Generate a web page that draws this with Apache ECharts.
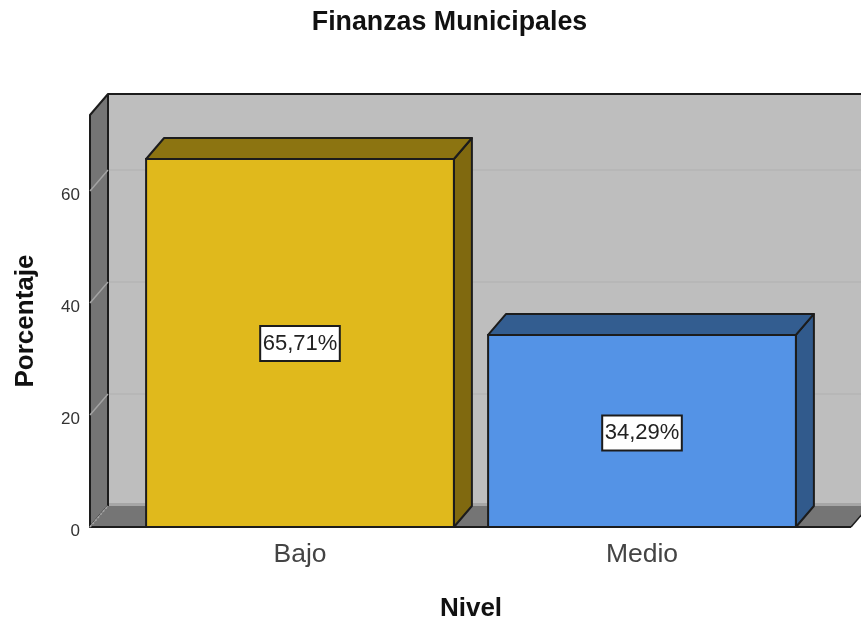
<!DOCTYPE html>
<html><head><meta charset="utf-8">
<style>html,body{margin:0;padding:0;background:#fff}#c{width:861px;height:625px}</style>
<script src="https://cdn.jsdelivr.net/npm/echarts@6/dist/echarts.min.js"></script>
</head><body><div id="c"></div>
<script>
const categories = ['Bajo', 'Medio'];
const values = [65.71, 34.29];
const valueLabels = ['65,71%', '34,29%'];
const yTicks = [0, 20, 40, 60];
const yMax = 73.57;
const barFront = ['#e0b91c', '#5493e6'];
const barTop = ['#8c7411', '#335d90'];
const barSide = ['#80690f', '#315a8c'];
const DX = 18, DY = -21, LINE = '#1c1c1c';

const chart = echarts.init(document.getElementById('c'));
function poly(points, fill, stroke, lw) {
  return { type: 'polygon', shape: { points }, style: { fill, stroke: stroke || null, lineWidth: lw || 0, lineJoin: 'round' } };
}
function wallItem(params, api) {
  const cs = params.coordSys;
  const L = cs.x - 39, R = cs.x + cs.width + 38, B = api.coord([categories[0], 0])[1], T = api.coord([categories[0], yMax])[1];
  const kids = [];
  kids.push(poly([[L + DX, T + DY], [R + DX + 10, T + DY], [R + DX + 10, B + DY], [L + DX, B + DY]], '#bebebe'));
  kids.push({ type: 'line', shape: { x1: L + DX, y1: T + DY, x2: 861, y2: T + DY }, style: { stroke: LINE, lineWidth: 2 } });
  yTicks.forEach(t => {
    if (t === 0) return;
    const y = api.coord([categories[0], t])[1];
    kids.push({ type: 'line', shape: { x1: L + DX, y1: y + DY, x2: 861, y2: y + DY }, style: { stroke: '#b0b0b0', lineWidth: 1.2 } });
  });
  kids.push(poly([[L + DX, B + DY - 3], [R + DX + 10, B + DY - 3], [R + DX + 10, B + DY], [L + DX, B + DY]], '#a6a6a6'));
  kids.push(poly([[L, T], [L + DX, T + DY], [L + DX, B + DY], [L, B]], '#757575', LINE, 2));
  yTicks.forEach(t => {
    const y = api.coord([categories[0], t])[1];
    kids.push({ type: 'line', shape: { x1: L, y1: y, x2: L + DX, y2: y + DY }, style: { stroke: '#a3a3a3', lineWidth: 1.5 } });
  });
  kids.push(poly([[L, B], [L + DX, B + DY], [R + DX, B + DY], [R, B]], '#757575'));
  kids.push({ type: 'line', shape: { x1: L, y1: B, x2: R, y2: B }, style: { stroke: LINE, lineWidth: 2 } });
  kids.push({ type: 'line', shape: { x1: R, y1: B, x2: R + DX, y2: B + DY }, style: { stroke: LINE, lineWidth: 1.5 } });
  kids.push({ type: 'line', shape: { x1: L, y1: B, x2: L + DX, y2: B + DY }, style: { stroke: '#a3a3a3', lineWidth: 1.5, lineDash: [2, 2] } });
  return { type: 'group', children: kids };
}
function barItem(params, api) {
  const i = params.dataIndex;
  const p = api.coord([api.value(0), api.value(1)]);
  const b = api.coord([api.value(0), 0]);
  const w = api.size([1, 0])[0] * 0.9;
  const x0 = p[0] - w / 2, x1 = p[0] + w / 2, yt = p[1], yb = b[1];
  return { type: 'group', children: [
    poly([[x1, yt], [x1 + DX, yt + DY], [x1 + DX, yb + DY], [x1, yb]], barSide[i], LINE, 2),
    poly([[x0, yt], [x0 + DX, yt + DY], [x1 + DX, yt + DY], [x1, yt]], barTop[i], LINE, 2),
    { type: 'rect', shape: { x: x0, y: yt, width: w, height: yb - yt }, style: { fill: barFront[i], stroke: LINE, lineWidth: 2 } },
    { type: 'text', x: p[0], y: (yt + yb) / 2 + (i === 1 ? 2 : 0.5), style: {
        text: valueLabels[i], fill: '#222', font: '22px "Liberation Sans"', align: 'center', verticalAlign: 'middle',
        backgroundColor: '#fff', borderColor: LINE, borderWidth: 2, padding: [6, 1.5, 5, 1.5] } }
  ]};
}
chart.setOption({
  animation: false,
  backgroundColor: '#fff',
  title: { text: 'Finanzas Municipales', left: 444.5, top: 4, textAlign: 'center',
    textStyle: { fontFamily: 'Liberation Sans', fontSize: 26.8, fontWeight: 'bold', color: '#111' } },
  grid: { left: 129, top: 115, width: 684, height: 412, outerBoundsMode: 'none' },
  xAxis: { type: 'category', data: categories, name: 'Nivel', nameLocation: 'middle', nameGap: 69,
    nameTextStyle: { fontFamily: 'Liberation Sans', fontSize: 26, fontWeight: 'bold', color: '#111' },
    axisLine: { show: false }, axisTick: { show: false },
    axisLabel: { fontFamily: 'Liberation Sans', fontSize: 26.5, color: '#444', margin: 14 } },
  yAxis: { type: 'value', min: 0, max: yMax, offset: 39, name: 'Porcentaje', nameLocation: 'middle', nameGap: 51,
    nameTextStyle: { fontFamily: 'Liberation Sans', fontSize: 26, fontWeight: 'bold', color: '#111' },
    axisLine: { show: false }, axisTick: { show: false }, splitLine: { show: false },
    axisLabel: { customValues: yTicks, fontFamily: 'Liberation Sans', fontSize: 17, color: '#333', margin: 10, verticalAlign: 'top', lineHeight: 8 } },
  series: [
    { type: 'custom', renderItem: wallItem, data: [[categories[0], 0]], silent: true, z: 1 },
    { type: 'custom', renderItem: barItem, data: categories.map((c, i) => [c, values[i]]), silent: true, z: 2 }
  ]
});
</script></body></html>
